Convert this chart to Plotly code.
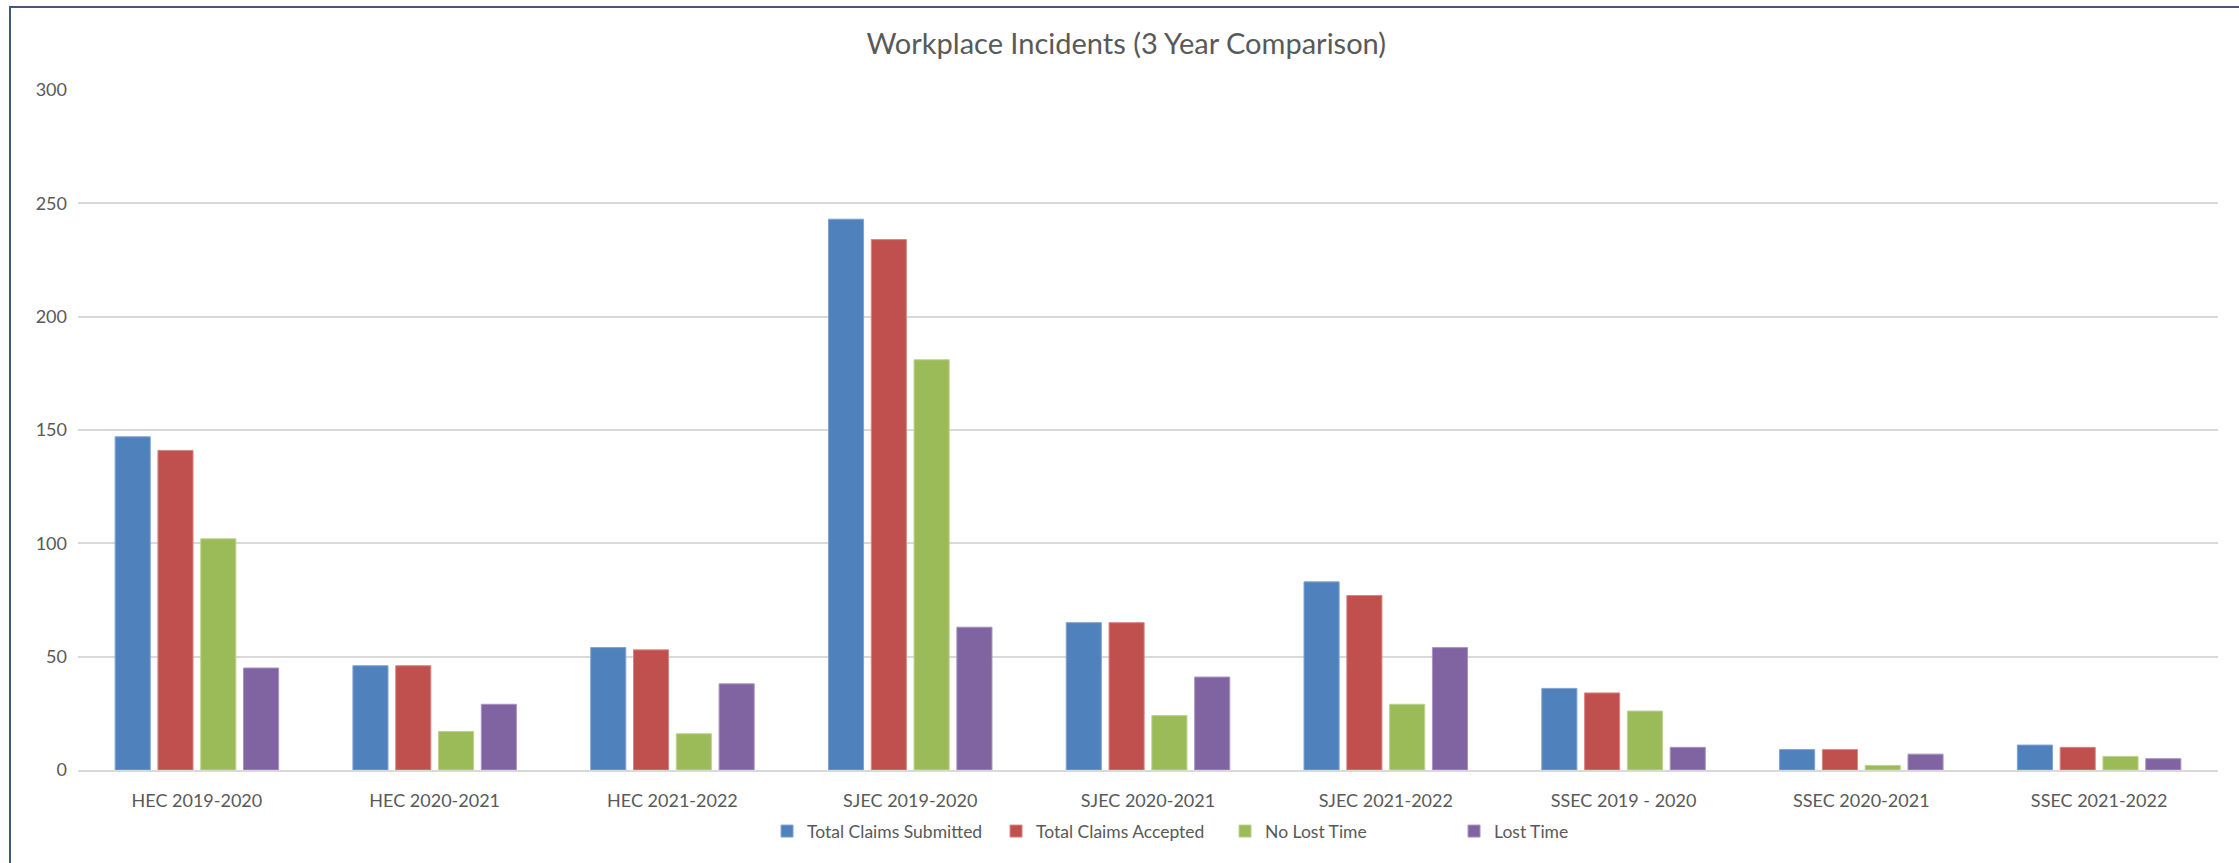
import plotly.graph_objects as go

# Incident counts per site and fiscal year
categories = [
    "HEC 2019-2020", "HEC 2020-2021", "HEC 2021-2022",
    "SJEC 2019-2020", "SJEC 2020-2021", "SJEC 2021-2022",
    "SSEC 2019 - 2020", "SSEC 2020-2021", "SSEC 2021-2022",
]
total_claims_submitted = [147, 46, 54, 243, 65, 83, 36, 9, 11]
total_claims_accepted = [141, 46, 53, 234, 65, 77, 34, 9, 10]
no_lost_time = [102, 17, 16, 181, 24, 29, 26, 2, 6]
lost_time = [45, 29, 38, 63, 41, 54, 10, 7, 5]
y_ticks = [0, 50, 100, 150, 200, 250, 300]

series = [
    ("Total Claims Submitted", total_claims_submitted, "#4F81BD", "#7FA3D0"),
    ("Total Claims Accepted", total_claims_accepted, "#C0504D", "#D88583"),
    ("No Lost Time", no_lost_time, "#9BBB59", "#BDD28F"),
    ("Lost Time", lost_time, "#8064A2", "#A892C2"),
]

FONT = "Lato"
TEXT = "#595959"

fig = go.Figure()
for name, values, color, edge in series:
    fig.add_trace(go.Bar(
        name=name,
        x=categories,
        y=values,
        marker=dict(color=color, line=dict(color=edge, width=1)),
    ))

fig.update_layout(
    width=2239,
    height=863,
    barmode="group",
    bargap=0.28,
    bargroupgap=0.18,
    paper_bgcolor="white",
    plot_bgcolor="white",
    margin=dict(l=78, r=21, t=90, b=93),
    font=dict(family=FONT, color=TEXT, size=18),
    title=dict(
        text="Workplace Incidents (3 Year Comparison)",
        x=0.503, xanchor="center",
        y=1 - 44 / 863, yanchor="middle",
        font=dict(family=FONT, size=29, color=TEXT),
    ),
    showlegend=True,
    legend=dict(
        orientation="h",
        x=0.536, xanchor="center",
        y=-0.09, yanchor="middle",
        font=dict(family=FONT, size=17.5, color=TEXT),
        itemwidth=30,
        entrywidth=184,
        entrywidthmode="pixels",
        traceorder="normal",
    ),
    xaxis=dict(
        showgrid=False,
        showline=True,
        linecolor="#D9D9D9",
        linewidth=2,
        ticks="",
        ticklabelstandoff=13,
        tickfont=dict(family=FONT, size=18, color=TEXT),
    ),
    yaxis=dict(
        range=[0, 300],
        tickvals=y_ticks,
        showgrid=True,
        gridcolor="#D9D9D9",
        gridwidth=1.5,
        zeroline=False,
        showline=False,
        ticks="",
        ticklabelstandoff=10,
        tickfont=dict(family=FONT, size=18, color=TEXT),
    ),
    shapes=[
        dict(
            type="rect", xref="paper", yref="paper",
            x0=(10 - 78) / 2140, x1=1.05,
            y0=-0.3, y1=1 + (90 - 7) / 680,
            line=dict(color="#41597D", width=2),
            fillcolor="rgba(0,0,0,0)",
            layer="below",
        )
    ],
)

fig.write_html("out.html")
